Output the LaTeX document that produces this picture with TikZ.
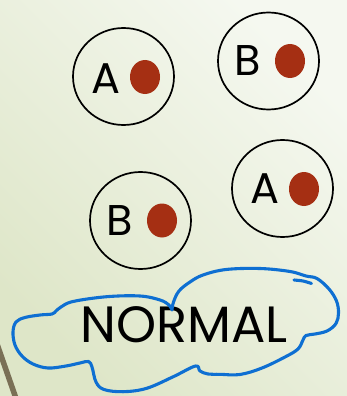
\documentclass[tikz,border=0pt]{standalone}
\usepackage{fontspec}
\setmainfont{Poppins}
\usetikzlibrary{shapes.geometric}
\definecolor{bgA}{RGB}{222,230,200}
\definecolor{bgB}{RGB}{245,248,240}
\definecolor{dotred}{RGB}{165,47,19}
\definecolor{penblue}{RGB}{14,111,210}
\definecolor{olivebar}{RGB}{122,112,86}
\begin{document}
\begin{tikzpicture}[x=1pt,y=-1pt,
  cell/.style={ellipse, draw=black, line width=1.7pt, minimum width=101pt, minimum height=97pt, inner sep=0pt},
  dot/.style={ellipse, fill=dotred, minimum width=30pt, minimum height=34pt, inner sep=0pt},
  letter/.style={font=\fontsize{43}{43}\selectfont, inner sep=0pt},
  pen/.style={draw=penblue, line width=3.1pt, line cap=round, line join=round}
  ]
\useasboundingbox (0,0) rectangle (347,396);
\shade[bottom color=bgA, top color=bgB, shading angle=-45] (0,0) rectangle (347,396);
\draw[olivebar, line width=5.5pt] (-3,344) -- (19,407);

\node[cell] (c1) at (123.5,76.5) {};
\node[letter] (l1) at (106,78.3) {A};
\node[dot] (d1) at (145,77) {};

\node[cell] (c2) at (268.5,61) {};
\node[letter] (l2) at (247.7,61) {B};
\node[dot] (d2) at (290,61) {};

\node[cell] (c3) at (282.5,188.5) {};
\node[letter] (l3) at (265,189) {A};
\node[dot] (d3) at (304,189) {};

\node[cell] (c4) at (140.5,220.5) {};
\node[letter] (l4) at (119.3,221) {B};
\node[dot] (d4) at (162,220.5) {};

\node[font=\fontsize{51}{51}\selectfont, inner sep=0pt] (normal) at (184,325) {NORMAL};

\draw[pen] plot[smooth, tension=0.6] coordinates {
 (172,310) (173.5,302) (179,291) (190,282) (203,275) (226,269.5) (260,268.5)
 (290,271.5) (306,276) (317,278.5) (329,289) (336.5,301) (338.5,313) (336,323.5)
 (327,331) (315,334) (306,335.5) (303,340) (298,349) (285,357) (262,368)
 (240,374.5) (220,374.3) (208,374) (200,371) (195.5,366) (173.3,376.7)
 (146.7,388.3) (123.3,391.7) (104,389.5) (96,382) (92,367) (88.5,361.5)
 (80,363) (66,366) (48,368) (33,364) (22,356) (15,345) (13,332) (16,322)
 (25,317.5) (40,315) (52,314) (56,311) (61,307) (73,301.5) (106.7,296.7)
 (140,296) (160,300) (169,305) (172,310)};
\draw[pen] plot[smooth] coordinates {(294,280) (303,281) (311.5,283.5)};
\end{tikzpicture}
\end{document}
